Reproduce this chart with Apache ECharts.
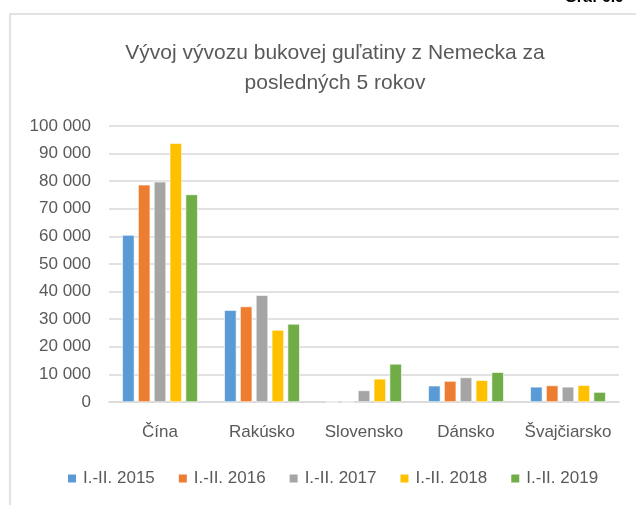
<!DOCTYPE html>
<html>
<head>
<meta charset="utf-8">
<script src="https://cdn.jsdelivr.net/npm/echarts@6/dist/echarts.min.js"></script>
<style>
  html, body { margin: 0; padding: 0; background: #fff; }
  #main { width: 636px; height: 505px; }
</style>
</head>
<body>
<div id="main"></div>
<script>
// categories and series
var countries = ['Čína', 'Rakúsko', 'Slovensko', 'Dánsko', 'Švajčiarsko'];
var years = ['I.-II. 2015', 'I.-II. 2016', 'I.-II. 2017', 'I.-II. 2018', 'I.-II. 2019'];
var v2015 = [60500, 33300, 0, 5900, 5500];
var v2016 = [78700, 34600, 0, 7600, 6000];
var v2017 = [79800, 38700, 4200, 8900, 5500];
var v2018 = [93800, 26100, 8400, 7900, 6100];
var v2019 = [75200, 28300, 13800, 10800, 3600];
var yTicks = [0, 100000, 10000]; // min, max, step

var colors = ['#5B9BD5', '#ED7D31', '#A5A5A5', '#FFC000', '#70AD47'];
var font = '"Liberation Sans", Arial, sans-serif';

var myChart = echarts.init(document.getElementById('main'));

var values = [v2015, v2016, v2017, v2018, v2019];
var series = years.map(function (name, i) {
  return {
    name: name,
    type: 'bar',
    data: values[i],
    barGap: '30%',
    barCategoryGap: '26%',
    itemStyle: { color: colors[i], borderColor: '#fff', borderWidth: 0.6 }
  };
});

var option = {
  color: colors,
  animation: false,
  textStyle: { fontFamily: font },
  title: {
    text: 'Vývoj vývozu bukovej guľatiny z Nemecka za\nposledných 5 rokov',
    left: 330,
    textAlign: 'center',
    top: 33,
    textStyle: { fontFamily: font, fontSize: 21, fontWeight: 'normal', color: '#595959', lineHeight: 30 }
  },
  graphic: [
    {
      type: 'rect',
      shape: { x: 10, y: 14, width: 700, height: 600 },
      style: { fill: 'none', stroke: '#d9d9d9', lineWidth: 1.5 },
      silent: true
    },
    {
      type: 'text',
      right: 12,
      top: -10,
      style: { text: 'Graf 6.9', font: 'bold 16px ' + font, fill: '#000' }
    }
  ],
  legend: {
    data: years,
    bottom: 13,
    left: 61,
    itemWidth: 10,
    itemHeight: 10,
    itemGap: 22,
    icon: 'rect',
    textStyle: { fontFamily: font, fontSize: 17, color: '#595959', padding: [0, 0, 0, 1] }
  },
  grid: { left: 109, right: 17, top: 126, bottom: 103, containLabel: false },
  xAxis: {
    type: 'category',
    data: countries,
    axisTick: { show: false },
    axisLine: { lineStyle: { color: '#d9d9d9', width: 1.5 } },
    axisLabel: { interval: 0, margin: 22, fontSize: 17, color: '#595959', fontFamily: font }
  },
  yAxis: {
    type: 'value',
    min: yTicks[0],
    max: yTicks[1],
    interval: yTicks[2],
    axisLabel: {
      margin: 18,
      fontSize: 17,
      color: '#595959',
      fontFamily: font,
      formatter: function (v) {
        return String(v).replace(/\B(?=(\d{3})+(?!\d))/g, ' ');
      }
    },
    splitLine: { lineStyle: { color: '#d9d9d9', width: 1.5 } }
  },
  series: series
};

myChart.setOption(option);
</script>
</body>
</html>
